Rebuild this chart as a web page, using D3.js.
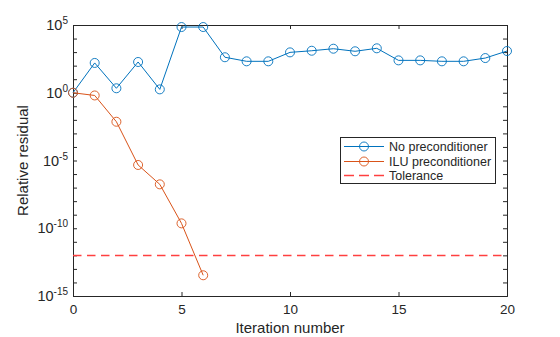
<!DOCTYPE html>
<html><head><meta charset="utf-8">
<script src="https://cdn.jsdelivr.net/npm/d3@7"></script>
<style>body{margin:0;background:#fff}svg{display:block}text{font-family:"Liberation Sans",Arial,sans-serif;fill:#262626}</style>
</head><body>
<script>
const iterNo = [0,1,2,3,4,5,6,7,8,9,10,11,12,13,14,15,16,17,18,19,20];
const logNoPre = [0,2.2,0.33,2.27,0.25,4.85,4.85,2.62,2.32,2.32,2.98,3.1,3.25,3.06,3.28,2.39,2.39,2.32,2.32,2.56,3.08];
const iterIlu = [0,1,2,3,4,5,6];
const logIlu = [0,-0.2,-2.14,-5.33,-6.76,-9.64,-13.47];
const tolerance = 1e-12;
const xTicks = [0,5,10,15,20];
const yTickExp = [-15,-10,-5,0,5];
const seriesNames = ["No preconditioner","ILU preconditioner","Tolerance"];

const W=560,H=337, L=73,R=507,T=25,B=296;
const svg=d3.select("body").append("svg").attr("width",W).attr("height",H);
const x=d3.scaleLinear().domain([0,20]).range([L,R]);
const y=d3.scaleLog().domain([1e-15,1e5]).range([B,T]);
const minor=d3.range(-15,6).map(e=>Math.pow(10,e));

const ax=svg.append("g").attr("transform",`translate(0,${B})`)
 .call(d3.axisBottom(x).tickValues(xTicks).tickSize(-4).tickPadding(8).tickFormat(d3.format("d")));
const axTop=svg.append("g").attr("transform",`translate(0,${T})`)
 .call(d3.axisTop(x).tickValues(xTicks).tickSize(-4).tickFormat(""));
const ay=svg.append("g").attr("transform",`translate(${L},0)`)
 .call(d3.axisLeft(y).tickValues(minor).tickSize(-4).tickFormat(""));
const ayR=svg.append("g").attr("transform",`translate(${R},0)`)
 .call(d3.axisRight(y).tickValues(minor).tickSize(-4).tickFormat(""));
[ax,axTop,ay,ayR].forEach(g=>{g.selectAll("path,line").attr("stroke","#262626");g.select(".domain").attr("stroke-width",1);});
ax.selectAll("text").attr("font-size",13.5).attr("fill","#262626").style("font-family","Liberation Sans, Arial");

yTickExp.forEach(e=>{
  const t=svg.append("text").attr("x",L-5).attr("y",y(Math.pow(10,e))+5).attr("text-anchor","end").attr("font-size",14.5);
  t.append("tspan").text("10");
  t.append("tspan").attr("dy",-6).attr("font-size",10).text(e);
});

svg.append("text").attr("x",(L+R)/2).attr("y",333).attr("text-anchor","middle").attr("font-size",15).text("Iteration number");
svg.append("text").attr("transform",`translate(28,${(T+B)/2}) rotate(-90)`).attr("text-anchor","middle").attr("font-size",15).text("Relative residual");

const blue="#0072BD", orange="#D95319", tolColor="rgb(255,64,64)";
const ty=Math.round(y(tolerance))+0.5;
svg.append("path").attr("d",`M${L},${ty}H${R}`)
 .attr("fill","none").attr("stroke",tolColor).attr("stroke-dasharray","8.5 5.5").attr("stroke-width",1.4);

const line=d3.line().x(d=>x(d[0])).y(d=>y(Math.pow(10,d[1])));
function series(xs,ys,col){
  const pts=xs.map((v,i)=>[v,ys[i]]);
  svg.append("path").datum(pts).attr("d",line).attr("fill","none").attr("stroke",col).attr("stroke-width",1);
  svg.append("g").selectAll("circle").data(pts).join("circle")
   .attr("cx",d=>x(d[0])).attr("cy",d=>y(Math.pow(10,d[1]))).attr("r",4.5)
   .attr("fill","none").attr("stroke",col).attr("stroke-width",0.9);
}
series(iterNo,logNoPre,blue);
series(iterIlu,logIlu,orange);

const lg=svg.append("g");
lg.append("rect").attr("x",340.5).attr("y",137.5).attr("width",155).attr("height",46).attr("fill","#fff").attr("stroke","#262626").attr("stroke-width",1);
const cols=[blue,orange,tolColor];
seriesNames.forEach((n,i)=>{
  const ly=Math.round(146+14.5*i)+0.5;
  const l=lg.append("path").attr("d",`M344,${ly}H384`).attr("fill","none").attr("stroke",cols[i]).attr("stroke-width",1);
  if(i===2) l.attr("stroke-dasharray","10 5").attr("stroke-width",1.4);
  else lg.append("circle").attr("cx",364).attr("cy",ly).attr("r",4.5).attr("fill","none").attr("stroke",cols[i]).attr("stroke-width",0.9);
  lg.append("text").attr("x",389).attr("y",ly+4.5).attr("font-size",12.5).text(n);
});
</script>
</body></html>
